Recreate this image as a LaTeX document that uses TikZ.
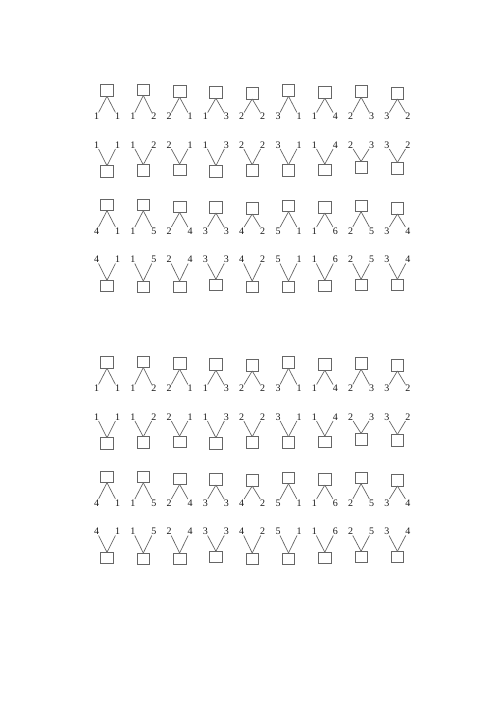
\documentclass[tikz,border=0pt]{standalone}
\usepackage{fontspec}
\setmainfont{Liberation Serif}
\begin{document}
\begin{tikzpicture}[x=1pt,y=-1pt,
  box/.style={draw=black!60, line width=0.7pt, minimum width=12.5pt, minimum height=11.5pt, inner sep=0pt, outer sep=0pt},
  lab/.style={inner sep=0.5pt, text=black!90, font=\fontsize{10}{12}\selectfont},
  edge/.style={draw=black!60, line width=0.7pt}]
\useasboundingbox[fill=white] (0,0) rectangle (500,707);
\foreach \h/\dy in {0/0,1/272}{
  % row 1: box on top
  \foreach \c/\l/\r/\o in {0/1/1/0,1/1/2/-0.7,2/2/1/1,3/1/3/2,4/2/2/2.7,5/3/1/0,6/1/4/2,7/2/3/1,8/3/2/2.7}{
    \pgfmathsetmacro{\cx}{107+36.3*\c}
    \node[box] (a\h-\c) at (\cx,90.5+\o+\dy) {};
    \node[lab] (a\h-\c-l) at (\cx-10.5,116.5+\dy) {\l};
    \node[lab] (a\h-\c-r) at (\cx+10.5,116.5+\dy) {\r};
    \draw[edge] (a\h-\c.south) -- (a\h-\c-l);
    \draw[edge] (a\h-\c.south) -- (a\h-\c-r);
  }
  % row 2: box below
  \foreach \c/\l/\r/\o in {0/1/1/1,1/1/2/0,2/2/1/-0.7,3/1/3/1,4/2/2/0,5/3/1/0,6/1/4/-0.7,7/2/3/-3.3,8/3/2/-2.3}{
    \pgfmathsetmacro{\cx}{107+36.3*\c}
    \node[box] (b\h-\c) at (\cx,170.5+\o+\dy) {};
    \node[lab] (b\h-\c-l) at (\cx-10.5,145+\dy) {\l};
    \node[lab] (b\h-\c-r) at (\cx+10.5,145+\dy) {\r};
    \draw[edge] (b\h-\c-l) -- (b\h-\c.north);
    \draw[edge] (b\h-\c-r) -- (b\h-\c.north);
  }
  % row 3: box on top
  \foreach \c/\l/\r/\o in {0/4/1/0,1/1/5/0,2/2/4/1.7,3/3/3/2.3,4/4/2/3.3,5/5/1/1,6/1/6/2.3,7/2/5/1,8/3/4/3.3}{
    \pgfmathsetmacro{\cx}{107+36.3*\c}
    \node[box] (c\h-\c) at (\cx,205+\o+\dy) {};
    \node[lab] (c\h-\c-l) at (\cx-10.5,231+\dy) {\l};
    \node[lab] (c\h-\c-r) at (\cx+10.5,231+\dy) {\r};
    \draw[edge] (c\h-\c.south) -- (c\h-\c-l);
    \draw[edge] (c\h-\c.south) -- (c\h-\c-r);
  }
  % row 4: box below
  \foreach \c/\l/\r/\o in {0/4/1/0,1/1/5/0.7,2/2/4/0.7,3/3/3/-1,4/4/2/0.7,5/5/1/0.7,6/1/6/0,7/2/5/-1,8/3/4/-1}{
    \pgfmathsetmacro{\cx}{107+36.3*\c}
    \node[box] (d\h-\c) at (\cx,286+\o+\dy) {};
    \node[lab] (d\h-\c-l) at (\cx-10.5,259.5+\dy) {\l};
    \node[lab] (d\h-\c-r) at (\cx+10.5,259.5+\dy) {\r};
    \draw[edge] (d\h-\c-l) -- (d\h-\c.north);
    \draw[edge] (d\h-\c-r) -- (d\h-\c.north);
  }
}
\end{tikzpicture}
\end{document}
